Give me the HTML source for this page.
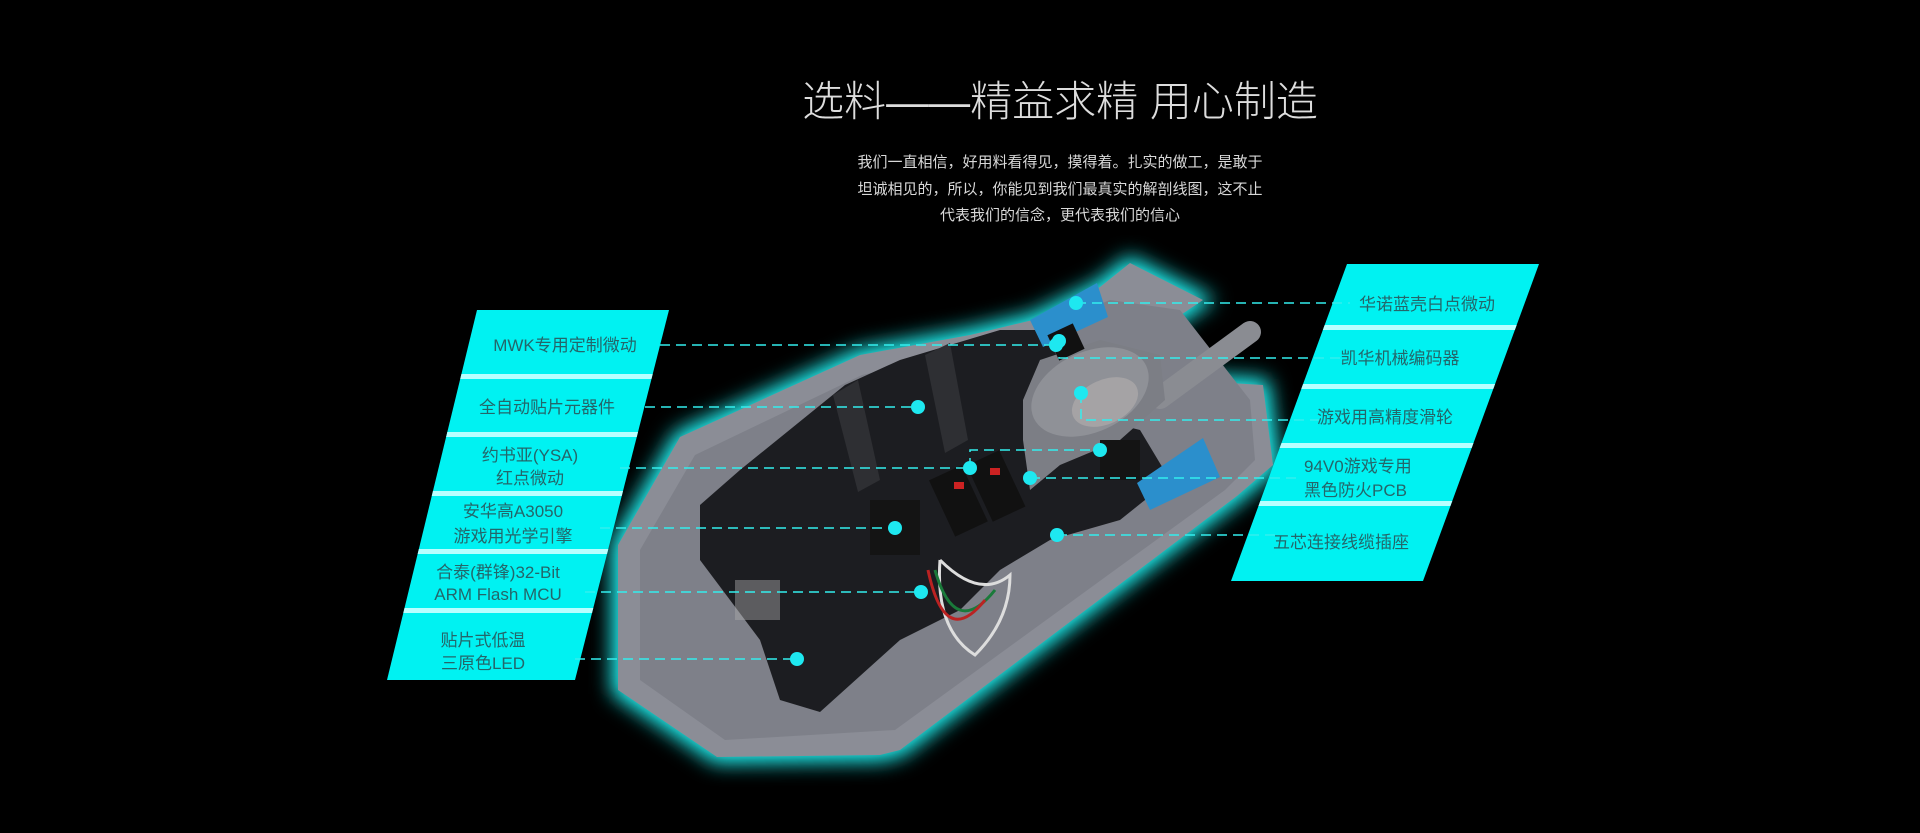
<!DOCTYPE html>
<html><head><meta charset="utf-8"><style>
html,body{margin:0;padding:0;background:#000;}
body{width:1920px;height:833px;position:relative;overflow:hidden;font-family:"Liberation Sans","Noto Sans CJK SC",sans-serif;}
.t{position:absolute;text-align:center;color:#ddd;}
</style></head><body>
<div class="t" style="top:76px;font-size:42px;line-height:52px;left:1060px;transform:translateX(-50%);white-space:nowrap;font-weight:300;">选料——精益求精 用心制造</div>
<div class="t" style="top:150px;font-size:15px;line-height:26.5px;left:1060px;transform:translateX(-50%);white-space:nowrap;color:#d8d8d8;">我们一直相信，好用料看得见，摸得着。扎实的做工，是敢于<br>坦诚相见的，所以，你能见到我们最真实的解剖线图，这不止<br>代表我们的信念，更代表我们的信心</div>
<svg width="1920" height="833" style="position:absolute;left:0;top:0" xmlns="http://www.w3.org/2000/svg">
<defs>
<filter id="glow" x="-20%" y="-20%" width="140%" height="140%"><feGaussianBlur stdDeviation="10"/></filter>
<clipPath id="lp"><polygon points="477,310 669,310 575,680 387,680"/></clipPath>
<clipPath id="rp"><polygon points="1347,264 1539,264 1423,581 1231,581"/></clipPath>
</defs>
<g filter="url(#glow)">
<polygon points="618,690 618,545 680,437 860,355 970,335 1033,320 1100,287 1130,263 1203,300 1163,327 1180,380 1263,385 1273,465 1237,496 900,750 880,755 717,757" fill="#2ff" stroke="#2ff" stroke-width="12"/>
</g>
<polygon points="618,690 618,545 680,437 860,355 970,335 1033,320 1100,287 1130,263 1203,300 1163,327 1180,380 1263,385 1273,465 1237,496 900,750 880,755 717,757" fill="#8b8d96"/>
<polygon points="640,680 640,550 695,455 862,375 1000,345 1110,300 1180,310 1250,400 1255,460 1225,490 895,730 725,740" fill="#7e8089"/>
<path d="M1160,398 L1250,332" stroke="#8a8c92" stroke-width="22" stroke-linecap="round"/>
<!-- pcb -->
<polygon points="700,505 740,470 845,385 900,360 1000,330 1040,330 1060,360 1100,420 1140,430 1170,480 1120,520 1050,540 1000,570 960,610 900,640 820,712 780,700 760,640 700,560" fill="#1c1d21"/>
<polygon points="833,395 858,380 880,480 858,492" fill="#2e2f33"/>
<polygon points="925,355 950,343 968,440 945,453" fill="#2e2f33"/>
<rect x="940" y="470" width="36" height="62" fill="#111" transform="rotate(-25 958 500)"/>
<rect x="978" y="455" width="36" height="62" fill="#111" transform="rotate(-25 996 486)"/>
<rect x="954" y="482" width="10" height="7" fill="#c22"/><rect x="990" y="468" width="10" height="7" fill="#c22"/>
<rect x="735" y="580" width="45" height="40" fill="#aaa" opacity=".45"/>
<rect x="870" y="500" width="50" height="55" fill="#141414"/>
<polygon points="1023,400 1040,360 1100,340 1160,355 1165,400 1120,440 1060,465 1030,490 1023,440" fill="#7c7e85"/>
<ellipse cx="1090" cy="392" rx="62" ry="40" fill="#8f9197" transform="rotate(-25 1090 392)"/>
<ellipse cx="1105" cy="402" rx="35" ry="22" fill="#a5a3a5" transform="rotate(-25 1105 402)"/>
<polygon points="1030,320 1097,283 1108,317 1043,347" fill="#2b8fcc"/>
<polygon points="1137,483 1203,438 1220,477 1150,510" fill="#2b8fcc"/>
<rect x="1052" y="328" width="28" height="28" fill="#111" transform="rotate(-25 1066 342)"/>
<rect x="1100" y="440" width="40" height="40" fill="#141414"/>
<path d="M940,560 Q980,600 1010,575 Q1010,620 975,655 Q935,630 940,560" fill="none" stroke="#ddd" stroke-width="3"/>
<path d="M935,570 Q955,640 995,590" fill="none" stroke="#1a7a3a" stroke-width="3"/>
<path d="M928,570 Q945,650 985,600" fill="none" stroke="#b22" stroke-width="3"/>
<!-- panels -->
<polygon points="477,310 669,310 575,680 387,680" fill="#00f2f2"/>
<g clip-path="url(#lp)" fill="#b8ffff">
<rect x="380" y="374" width="300" height="5"/><rect x="380" y="432" width="300" height="5"/><rect x="380" y="491" width="300" height="5"/><rect x="380" y="549" width="300" height="5"/><rect x="380" y="608" width="300" height="5"/>
</g>
<polygon points="1347,264 1539,264 1423,581 1231,581" fill="#00f2f2"/>
<g clip-path="url(#rp)" fill="#b8ffff">
<rect x="1220" y="325" width="330" height="5"/><rect x="1220" y="384" width="330" height="5"/><rect x="1220" y="443" width="330" height="5"/><rect x="1220" y="501" width="330" height="5"/>
</g>
<!-- connectors -->
<g stroke="#3ee" stroke-width="1.5" stroke-dasharray="10,6" fill="none">
<path d="M660,345 H1056"/><path d="M645,407 H918"/><path d="M620,468 H970"/><path d="M600,528 H895"/><path d="M585,592 H921"/><path d="M575,659 H797"/>
<path d="M1076,303 H1350"/><path d="M1059,341 V358 H1340"/><path d="M1081,393 V420 H1320"/><path d="M970,468 V450 H1100"/><path d="M1030,478 H1300"/><path d="M1057,535 H1280"/>
</g>
<g fill="#1ee8f0">
<circle cx="1056" cy="345" r="7"/><circle cx="918" cy="407" r="7"/><circle cx="970" cy="468" r="7"/><circle cx="895" cy="528" r="7"/><circle cx="921" cy="592" r="7"/><circle cx="797" cy="659" r="7"/>
<circle cx="1076" cy="303" r="7"/><circle cx="1059" cy="341" r="7"/><circle cx="1081" cy="393" r="7"/><circle cx="1100" cy="450" r="7"/><circle cx="1030" cy="478" r="7"/><circle cx="1057" cy="535" r="7"/>
</g>
<g font-family="Liberation Sans, Noto Sans CJK SC, sans-serif" font-size="17" fill="#24666a" text-anchor="middle">
<text x="565" y="351">MWK专用定制微动</text>
<text x="547" y="413">全自动贴片元器件</text>
<text x="530" y="461">约书亚(YSA)</text><text x="530" y="484">红点微动</text>
<text x="513" y="517">安华高A3050</text><text x="513" y="542">游戏用光学引擎</text>
<text x="498" y="578">合泰(群锋)32-Bit</text><text x="498" y="600">ARM Flash MCU</text>
<text x="483" y="646">贴片式低温</text><text x="483" y="669">三原色LED</text>
<text x="1427" y="310">华诺蓝壳白点微动</text>
<text x="1400" y="364">凯华机械编码器</text>
<text x="1385" y="423">游戏用高精度滑轮</text>
<text x="1304" y="472" text-anchor="start">94V0游戏专用</text><text x="1304" y="496" text-anchor="start">黑色防火PCB</text>
<text x="1341" y="548">五芯连接线缆插座</text>
</g>
</svg>
</body></html>
